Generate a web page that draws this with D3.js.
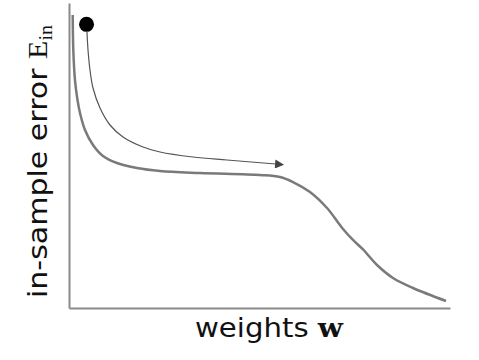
<!DOCTYPE html>
<html>
<head>
<meta charset="utf-8">
<script src="https://cdn.jsdelivr.net/npm/d3@7"></script>
<style>
  html, body { margin: 0; padding: 0; background: #fff; }
  svg { display: block; }
</style>
</head>
<body>
<svg id="chart" width="479" height="360"></svg>
<script>
// Error curve E_in(w), axes in arbitrary units 0..100
const curveW = [0.97, 1.13, 1.57, 2.23, 2.89, 4.20, 6.30, 8.92, 12.60, 17.85, 23.88, 34.38, 50.13, 55.38, 58.79, 63.25, 67.72, 71.92, 74.54, 77.17, 80.84, 85.04, 90.29, 98.95];
const curveE = [96.07, 84.59, 74.75, 68.20, 63.93, 58.36, 53.44, 49.84, 47.54, 45.90, 44.92, 44.26, 43.61, 42.95, 41.31, 38.03, 32.79, 25.90, 22.30, 19.20, 14.10, 9.84, 6.56, 2.30];

// Descent trajectory arrow
const pathW = [4.72, 4.99, 5.51, 6.30, 8.14, 10.76, 14.17, 19.42, 23.88, 32.55, 41.47, 54.33];
const pathE = [90.49, 84.59, 78.03, 72.13, 65.57, 60.00, 56.07, 52.79, 51.15, 49.51, 48.52, 47.21];

// Starting point
const startW = [4.6];
const startE = [93.0];

const xLabel = "weights ";
const xLabelBold = "w";
const yLabel = "in-sample error ";
const yLabelE = "E";
const yLabelSub = "in";

const svg = d3.select("#chart");
const x = d3.scaleLinear().domain([0, 100]).range([69, 450]);
const y = d3.scaleLinear().domain([0, 100]).range([308, 3]);

// axes
const gx = svg.append("g").attr("transform", "translate(0,308)")
  .call(d3.axisBottom(x).tickValues([]).tickSizeOuter(0));
const gy = svg.append("g").attr("transform", "translate(69,0)")
  .call(d3.axisLeft(y).tickValues([]).tickSizeOuter(0));
[gx, gy].forEach(g => g.select(".domain").attr("stroke", "#8a8a8a").attr("stroke-width", 2));

// marker
svg.append("defs").append("marker")
  .attr("id", "arrow").attr("viewBox", "0 0 10 10")
  .attr("refX", 1).attr("refY", 5)
  .attr("markerUnits", "userSpaceOnUse")
  .attr("markerWidth", 10).attr("markerHeight", 9)
  .attr("orient", "auto")
  .append("path").attr("d", "M0,0L10,5L0,10Z").attr("fill", "#444");

const line = d3.line().x(d => x(d[0])).y(d => y(d[1])).curve(d3.curveCatmullRom.alpha(0.5));

svg.append("path")
  .attr("d", line(curveW.map((w, i) => [w, curveE[i]])))
  .attr("fill", "none").attr("stroke", "#7a7a7a").attr("stroke-width", 2.5);

svg.append("path")
  .attr("d", line(pathW.map((w, i) => [w, pathE[i]])))
  .attr("fill", "none").attr("stroke", "#555").attr("stroke-width", 1.2)
  .attr("marker-end", "url(#arrow)");

svg.selectAll("circle.start").data(startW).enter().append("circle")
  .attr("class", "start")
  .attr("cx", d => x(d)).attr("cy", (d, i) => y(startE[i]))
  .attr("r", 7.5).attr("fill", "#000");

// x label
const tx = svg.append("text")
  .attr("x", 195).attr("y", 337)
  .attr("font-family", "DejaVu Sans, sans-serif")
  .attr("font-size", 26).attr("fill", "#111")
  .attr("textLength", 148).attr("lengthAdjust", "spacingAndGlyphs");
tx.append("tspan").text(xLabel);
tx.append("tspan").attr("font-family", "DejaVu Serif, serif").attr("font-weight", "bold").text(xLabelBold);

// y label
const ty = svg.append("text")
  .attr("transform", "translate(47,298) rotate(-90)")
  .attr("font-family", "DejaVu Sans, sans-serif")
  .attr("font-size", 27).attr("fill", "#111")
  .attr("textLength", 273).attr("lengthAdjust", "spacingAndGlyphs");
ty.append("tspan").text(yLabel);
ty.append("tspan").attr("font-family", "Liberation Serif, serif").text(yLabelE);
ty.append("tspan").attr("font-family", "Liberation Serif, serif").attr("font-size", 18).attr("dy", 5).text(yLabelSub);
</script>
</body>
</html>
